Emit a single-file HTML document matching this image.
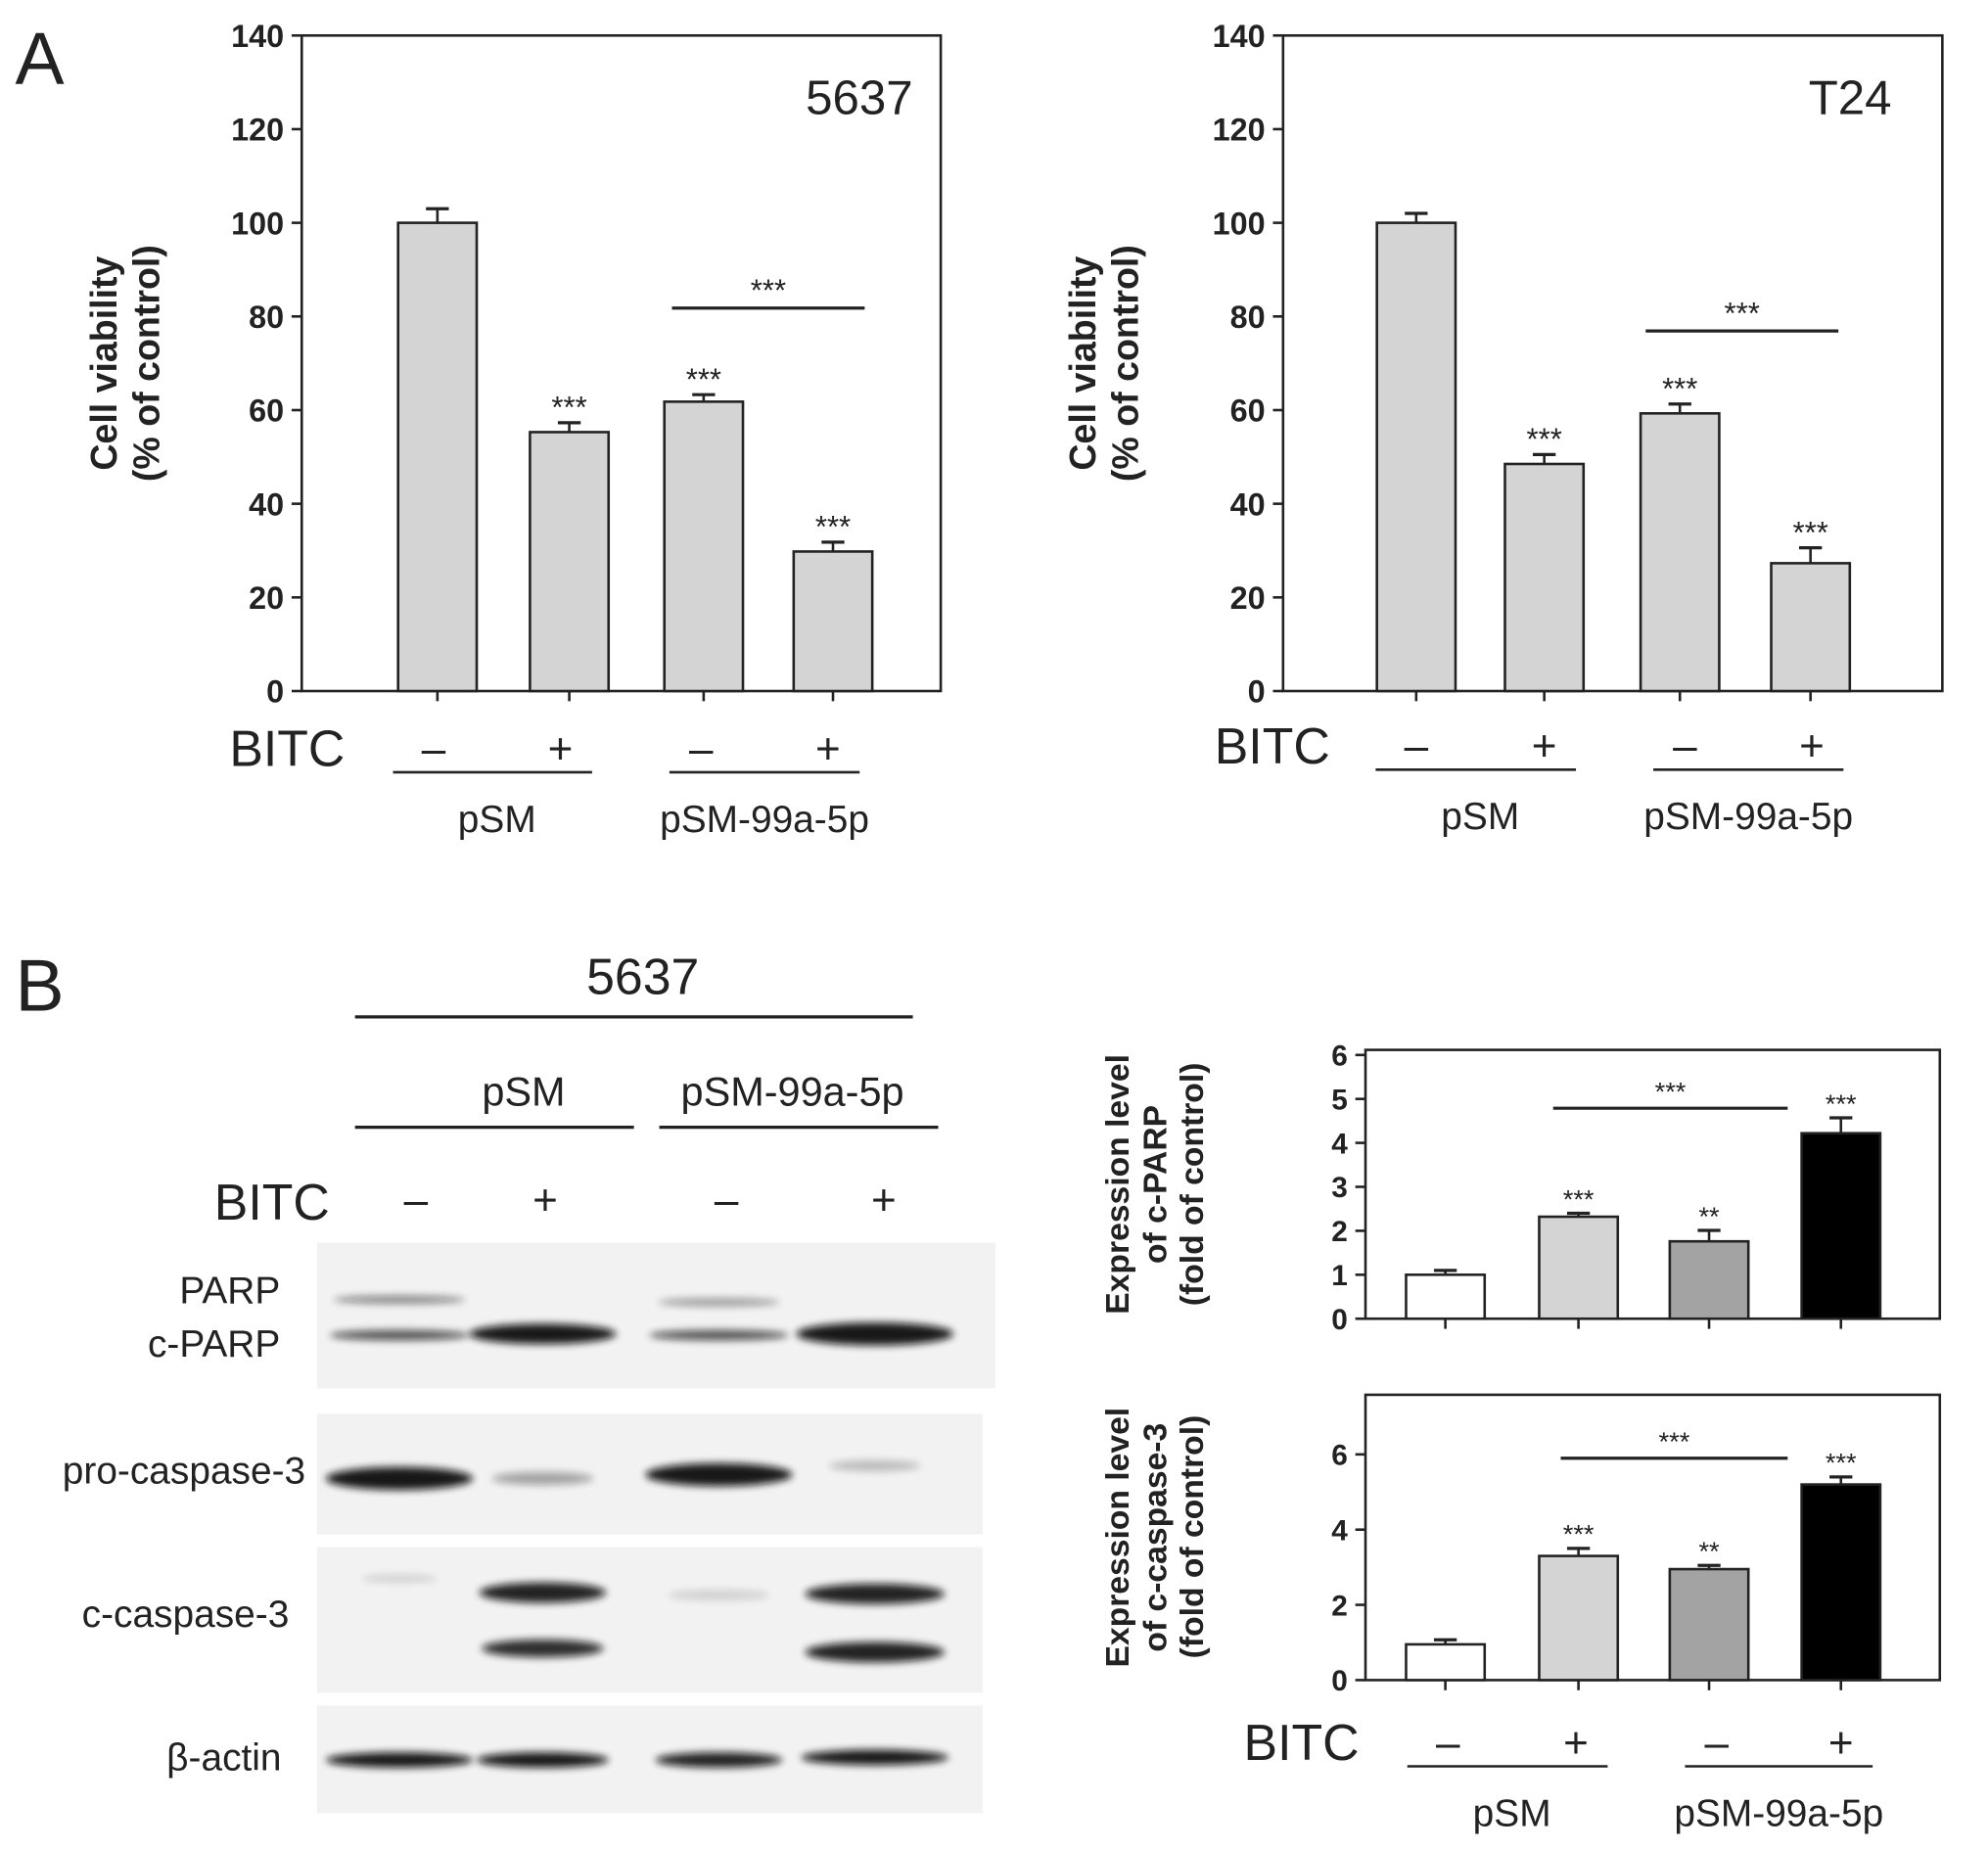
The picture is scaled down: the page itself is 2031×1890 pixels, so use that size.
<!DOCTYPE html>
<html><head><meta charset="utf-8"><style>
html,body{margin:0;padding:0;background:#fff}
svg{display:block}
text{font-family:"Liberation Sans",Arial,sans-serif;fill:#222}
</style></head><body>
<svg id="fig" width="2031" height="1890" viewBox="0 0 1568 1459" preserveAspectRatio="none" xmlns="http://www.w3.org/2000/svg">
<defs>
<filter id="blur" x="-20%" y="-200%" width="140%" height="500%"><feGaussianBlur stdDeviation="3"/></filter>
</defs>
<text x="12" y="66" font-size="58">A</text>
<text x="12" y="797" font-size="58">B</text>
<g id="charts"></g>
<g id="blot"></g>
</svg>
<script>
// ---- data ----
const groups = ["pSM -", "pSM +", "pSM-99a-5p -", "pSM-99a-5p +"];
const via5637 = [100, 55.3, 61.8, 29.8];
const via5637Err = [3, 2, 1.5, 2];
const sig5637 = ["", "***", "***", "***"];
const viaT24 = [100, 48.5, 59.3, 27.3];
const viaT24Err = [2, 2, 2, 3.3];
const sigT24 = ["", "***", "***", "***"];
const viaTicks = [0, 20, 40, 60, 80, 100, 120, 140];
const cparp = [1, 2.32, 1.76, 4.22];
const cparpErr = [0.1, 0.08, 0.25, 0.35];
const sigParp = ["", "***", "**", "***"];
const parpTicks = [0, 1, 2, 3, 4, 5, 6];
const ccasp = [0.95, 3.3, 2.95, 5.2];
const ccaspErr = [0.12, 0.2, 0.1, 0.2];
const sigCasp = ["", "***", "**", "***"];
const caspTicks = [0, 2, 4, 6];

const NS = "http://www.w3.org/2000/svg";
const root = document.getElementById('charts');
function mk(tag, attrs, parent, txt) {
  const e = document.createElementNS(NS, tag);
  for (const k in attrs) e.setAttribute(k, attrs[k]);
  if (txt !== undefined) e.textContent = txt;
  (parent || root).appendChild(e);
  return e;
}

function chart(o) {
  const g = mk('g', {});
  
  
  const y = v => o.y0 - (v - 0) / (o.ymax) * (o.y0 - o.ytop);
  const fr = mk('rect', {x: o.x0, y: o.boxTop, width: o.x1 - o.x0, height: o.y0 - o.boxTop, fill: 'none', stroke: '#222', 'stroke-width': 2}, g);
  
  
  o.ticks.forEach(t => {
    mk('line', {x1: o.x0 - 8, x2: o.x0, y1: y(t), y2: y(t), stroke: '#222', 'stroke-width': 2}, g);
    const tl = mk('text', {x: o.x0 - 14, y: y(t) + o.tfs * 0.36, 'font-size': o.tfs, 'text-anchor': 'end', 'font-weight': 'bold'}, g, String(t));
    
    
  });
  o.vals.forEach((v, i) => {
    const cx = o.cx[i];
    mk('line', {x1: cx, x2: cx, y1: o.y0, y2: o.y0 + 8, stroke: '#222', 'stroke-width': 2}, g);
    const top = y(v + o.err[i]);
    mk('line', {x1: cx, x2: cx, y1: y(v), y2: top, stroke: '#222', 'stroke-width': 2}, g);
    mk('line', {x1: cx - 9, x2: cx + 9, y1: top, y2: top, stroke: '#222', 'stroke-width': 2.5}, g);
    const b = mk('rect', {x: cx - o.bw / 2, y: y(v), width: o.bw, height: o.y0 - y(v), fill: o.fills[i], stroke: '#222', 'stroke-width': 2}, g);
    
    
    if (o.sig[i]) {
      const s = mk('text', {x: cx, y: top - 4, 'font-size': o.sfs, 'text-anchor': 'middle'}, g, o.sig[i]);
      
      
    }
  });
  const sl = mk('line', {x1: o.sx1, x2: o.sx2, y1: o.sy, y2: o.sy, stroke: '#222', 'stroke-width': 2.5}, g);
  
  
  mk('text', {x: (o.sx1 + o.sx2) / 2, y: o.sy - 6, 'font-size': o.sfs, 'text-anchor': 'middle'}, g, '***');
  const yt = mk('text', {transform: `translate(${o.ylx},${(o.y0 + o.boxTop) / 2}) rotate(-90)`, 'font-size': o.yfs, 'text-anchor': 'middle', 'font-weight': 'bold'}, g);
  
  
  mk('tspan', {x: 0, dy: 0}, yt, o.ylab[0]);
  mk('tspan', {x: 0, dy: o.yfs * 1.15}, yt, o.ylab[1]);
  return g;
}

function xlabels(o) {
  const g = mk('g', {});
  
  
  mk('text', {x: o.bx, y: o.by, 'font-size': o.bfs, 'text-anchor': 'end'}, g, 'BITC');
  const sg = ['\u2013', '+', '\u2013', '+'];
  o.cx.forEach((cx, i) => mk('text', {x: cx, y: o.by - 2, 'font-size': o.bfs * 0.85, 'text-anchor': 'middle'}, g, sg[i]));
  mk('line', {x1: o.cx[0] - 32, x2: o.cx[1] + 25, y1: o.ly, y2: o.ly, stroke: '#222', 'stroke-width': 2}, g);
  mk('line', {x1: o.cx[2] - 25, x2: o.cx[3] + 25, y1: o.ly, y2: o.ly, stroke: '#222', 'stroke-width': 2}, g);
  mk('text', {x: (o.cx[0] + o.cx[1]) / 2, y: o.ty, 'font-size': o.tfs, 'text-anchor': 'middle'}, g, 'pSM');
  mk('text', {x: (o.cx[2] + o.cx[3]) / 2, y: o.ty, 'font-size': o.tfs, 'text-anchor': 'middle'}, g, 'pSM-99a-5p');
}

const gray4 = ['#d4d4d4', '#d4d4d4', '#d4d4d4', '#d4d4d4'];
chart({name: 'chart-5637-viability', x0: 238, x1: 742, boxTop: 28, y0: 545, ytop: 28, ymax: 140, ticks: viaTicks, vals: via5637, err: via5637Err, sig: sig5637, cx: [345, 449, 555, 657], bw: 62, fills: gray4, tfs: 25, sfs: 24, sx1: 530, sx2: 682, sy: 243, ylx: 92, yfs: 29, ylab: ['Cell viability', '(% of control)']});
mk('text', {x: 720, y: 90, 'font-size': 38, 'text-anchor': 'end'}, root, '5637');
xlabels({bx: 272, by: 604, bfs: 40, cx: [342, 442, 553, 653], ly: 609, ty: 656, tfs: 30});

chart({name: 'chart-t24-viability', x0: 1012, x1: 1532, boxTop: 28, y0: 545, ytop: 28, ymax: 140, ticks: viaTicks, vals: viaT24, err: viaT24Err, sig: sigT24, cx: [1117, 1218, 1325, 1428], bw: 62, fills: gray4, tfs: 25, sfs: 24, sx1: 1298, sx2: 1450, sy: 261, ylx: 864, yfs: 29, ylab: ['Cell viability', '(% of control)']});
mk('text', {x: 1492, y: 90, 'font-size': 38, 'text-anchor': 'end'}, root, 'T24');
xlabels({bx: 1049, by: 602, bfs: 40, cx: [1117, 1218, 1329, 1429], ly: 607, ty: 654, tfs: 30});

const fill4 = ['#ffffff', '#d4d4d4', '#a3a3a3', '#000000'];
chart({name: 'chart-c-parp', x0: 1077, x1: 1530, boxTop: 828, y0: 1040, ytop: 832, ymax: 6, ticks: parpTicks, vals: cparp, err: cparpErr, sig: sigParp, cx: [1140, 1245, 1348, 1452], bw: 62, fills: fill4, tfs: 23, sfs: 21, sx1: 1225, sx2: 1410, sy: 874, ylx: 890, yfs: 26, ylab: ['Expression level', 'of c-PARP']});
mk('text', {transform: 'translate(949,934) rotate(-90)', 'font-size': 26, 'text-anchor': 'middle', 'font-weight': 'bold'}, root, '(fold of control)');
chart({name: 'chart-c-caspase3', x0: 1077, x1: 1530, boxTop: 1100, y0: 1325, ytop: 1147, ymax: 6, ticks: caspTicks, vals: ccasp, err: ccaspErr, sig: sigCasp, cx: [1140, 1245, 1348, 1452], bw: 62, fills: fill4, tfs: 23, sfs: 21, sx1: 1231, sx2: 1410, sy: 1150, ylx: 890, yfs: 26, ylab: ['Expression level', 'of c-caspase-3']});
mk('text', {transform: 'translate(949,1212) rotate(-90)', 'font-size': 26, 'text-anchor': 'middle', 'font-weight': 'bold'}, root, '(fold of control)');
xlabels({bx: 1072, by: 1388, bfs: 40, cx: [1142, 1243, 1354, 1452], ly: 1393, ty: 1440, tfs: 30});

// ---- blot ----
const blot = document.getElementById('blot');
function bm(tag, attrs, txt) { return mk(tag, attrs, blot, txt); }
bm('text', {x: 507, y: 784, 'font-size': 40, 'text-anchor': 'middle'}, '5637');
bm('line', {x1: 280, x2: 720, y1: 802, y2: 802, stroke: '#222', 'stroke-width': 2.5});
bm('text', {x: 413, y: 872, 'font-size': 32, 'text-anchor': 'middle'}, 'pSM');
bm('text', {x: 625, y: 872, 'font-size': 32, 'text-anchor': 'middle'}, 'pSM-99a-5p');
bm('line', {x1: 280, x2: 500, y1: 889, y2: 889, stroke: '#222', 'stroke-width': 2.5});
bm('line', {x1: 520, x2: 740, y1: 889, y2: 889, stroke: '#222', 'stroke-width': 2.5});
bm('text', {x: 260, y: 962, 'font-size': 40, 'text-anchor': 'end'}, 'BITC');
['\u2013', '+', '\u2013', '+'].forEach((s, i) => bm('text', {x: [328, 430, 573, 697][i], y: 958, 'font-size': 34, 'text-anchor': 'middle'}, s));
const lbl = [['PARP', 221, 1028], ['c-PARP', 221, 1070], ['pro-caspase-3', 241, 1170], ['c-caspase-3', 228, 1283], ['\u03b2-actin', 222, 1396]];
lbl.forEach(l => bm('text', {x: l[1], y: l[2], 'font-size': 30, 'text-anchor': 'end', fill: '#333'}, l[0]));
const panels = [[250, 980, 535, 115], [250, 1115, 525, 95], [250, 1220, 525, 115], [250, 1345, 525, 85]];
panels.forEach(p => bm('rect', {x: p[0], y: p[1], width: p[2], height: p[3], fill: '#f2f2f2'}));
const lx = [315, 428, 567, 690];
function band(i, cy, w, h, op) { bm('ellipse', {cx: lx[i], cy: cy, rx: w, ry: h, fill: '#111', opacity: op, filter: 'url(#blur)'}); }
band(0, 1025, 52, 3, 0.5); band(2, 1027, 48, 3, 0.4);
band(0, 1053, 55, 4, 0.7); band(1, 1052, 58, 8, 0.95); band(2, 1053, 55, 4, 0.7); band(3, 1052, 62, 9, 0.95);
band(0, 1166, 58, 9, 0.95); band(1, 1166, 40, 5, 0.35); band(2, 1163, 58, 9, 0.95); band(3, 1156, 36, 4, 0.25);
band(1, 1256, 50, 8, 0.9); band(3, 1257, 55, 8, 0.9); band(1, 1300, 48, 7, 0.85); band(3, 1303, 55, 8, 0.9);
band(0, 1245, 30, 3, 0.15); band(2, 1258, 40, 4, 0.15);
band(0, 1388, 58, 6, 0.95); band(1, 1388, 52, 6, 0.95); band(2, 1388, 50, 6, 0.9); band(3, 1386, 58, 6, 0.95);
</script>
</body></html>
